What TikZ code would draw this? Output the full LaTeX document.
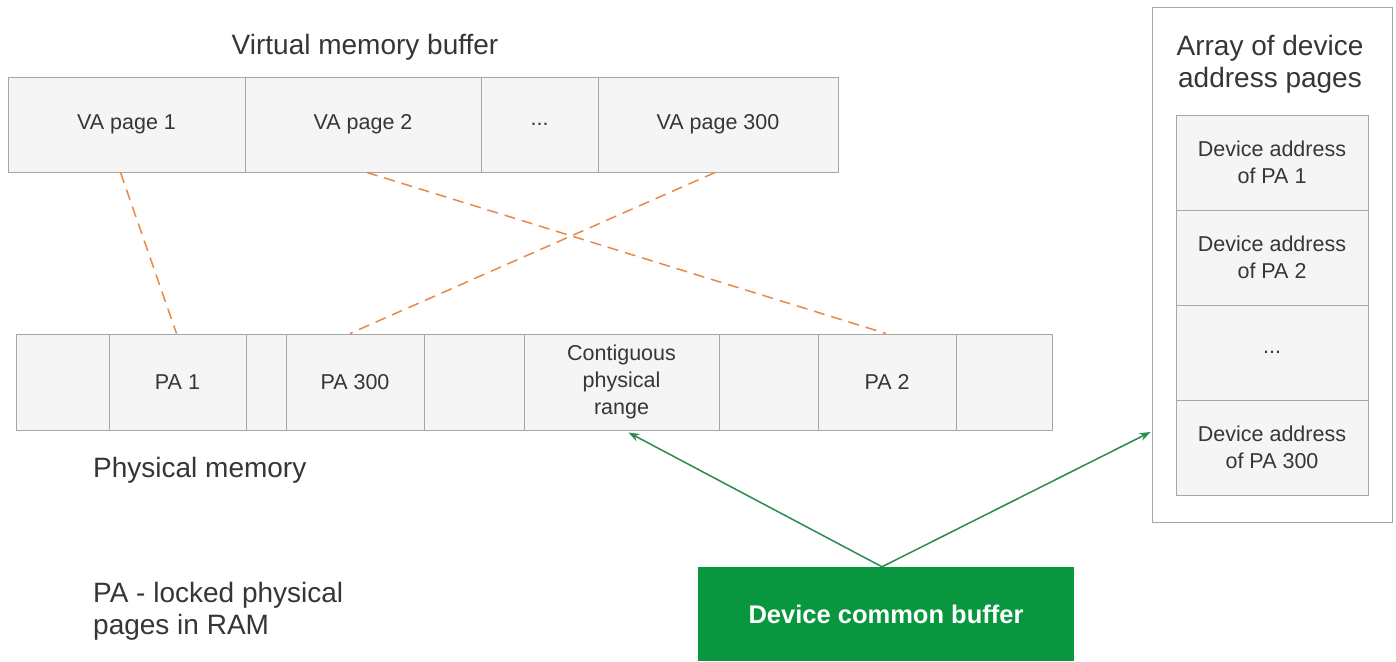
\documentclass[tikz,border=0pt]{standalone}
\usepackage{fontspec}
\setmainfont{Liberation Sans}
\usetikzlibrary{arrows.meta}
\definecolor{cellfill}{HTML}{F5F5F5}
\definecolor{cellline}{HTML}{A6A6A6}
\definecolor{txt}{HTML}{363636}
\definecolor{linkorange}{HTML}{E8894A}
\definecolor{devgreen}{HTML}{08963E}
\definecolor{arrowgreen}{HTML}{2B8A4E}
\tikzset{
  cell/.style={draw=cellline, fill=cellfill, line width=1pt, inner sep=0pt,
    text=txt, align=center, font=\fontsize{21.5}{27}\selectfont},
  heading/.style={text=txt, inner sep=0pt, font=\fontsize{28}{32}\selectfont},
  maplink/.style={draw=linkorange, line width=1.5pt, dash pattern=on 11pt off 7pt},
  devlink/.style={draw=arrowgreen, line width=1.5pt, -{Stealth[length=11pt,width=8pt]}},
}
\begin{document}
\begin{tikzpicture}[x=1pt,y=-1pt]
\useasboundingbox[fill=white] (0,0) rectangle (1396,661);

% virtual memory buffer
\node[heading] (vtitle) at (365,47) {Virtual memory buffer};
\node[cell, minimum width=237pt, minimum height=95pt] (va1) at (126.5,124.5) {VA page 1};
\node[cell, minimum width=236pt, minimum height=95pt] (va2) at (363,124.5) {VA page 2};
\node[cell, minimum width=117pt, minimum height=95pt] (vadots) at (539.5,124.5) {...};
\node[cell, minimum width=240pt, minimum height=95pt] (va300) at (718,124.5) {VA page 300};

% physical memory
\node[cell, minimum width=93pt,  minimum height=96pt] (pe1) at (62.5,382) {};
\node[cell, minimum width=137pt, minimum height=96pt] (pa1) at (177.5,382) {PA 1};
\node[cell, minimum width=40pt,  minimum height=96pt] (pe2) at (266,382) {};
\node[cell, minimum width=138pt, minimum height=96pt] (pa300) at (355,382) {PA 300};
\node[cell, minimum width=100pt, minimum height=96pt] (pe3) at (474,382) {};
\node[cell, minimum width=195pt, minimum height=96pt] (contig) at (621.5,382) {Contiguous\\physical\\range};
\node[cell, minimum width=99pt,  minimum height=96pt] (pe4) at (768.5,382) {};
\node[cell, minimum width=138pt, minimum height=96pt] (pa2) at (887,382) {PA 2};
\node[cell, minimum width=96pt,  minimum height=96pt] (pe5) at (1004,382) {};
\node[heading, anchor=west] (pmem) at (93,470) {Physical memory};

% legend
\node[heading, anchor=west, align=left] (legend) at (93,611) {PA - locked physical\\pages in RAM};

% array of device address pages
\node[draw=cellline, line width=1pt, fill=white, minimum width=240pt, minimum height=514pt, inner sep=0pt] (arr) at (1272,265) {};
\node[heading, align=center] (arrtitle) at (1270,64) {Array of device\\address pages};
\node[cell, minimum width=192pt, minimum height=95pt] (d1) at (1272,162.5) {Device address\\of PA 1};
\node[cell, minimum width=192pt, minimum height=95pt] (d2) at (1272,257.5) {Device address\\of PA 2};
\node[cell, minimum width=192pt, minimum height=95pt] (d3) at (1272,352.5) {...};
\node[cell, minimum width=192pt, minimum height=95pt] (d4) at (1272,447.5) {Device address\\of PA 300};

% device common buffer
\node[fill=devgreen, minimum width=376pt, minimum height=94pt, inner sep=0pt, text=white,
  font=\fontsize{25.5}{30}\selectfont\bfseries] (dcb) at (886,614) {Device common buffer};

% virtual to physical page mapping
\draw[maplink] ([xshift=-6pt]va1.south) -- ([xshift=-1pt]pa1.north);
\draw[maplink] ([xshift=4pt]va2.south) -- ([xshift=-1pt]pa2.north);
\draw[maplink] ([xshift=-3pt]va300.south) -- ([xshift=-5pt]pa300.north);

% device buffer references
\draw[devlink] ([xshift=-4pt]dcb.north) -- ([xshift=7pt,yshift=-2pt]contig.south);
\draw[devlink] ([xshift=-4pt]dcb.north) -- ([xshift=-1pt,yshift=-167pt]arr.west);
\end{tikzpicture}
\end{document}
